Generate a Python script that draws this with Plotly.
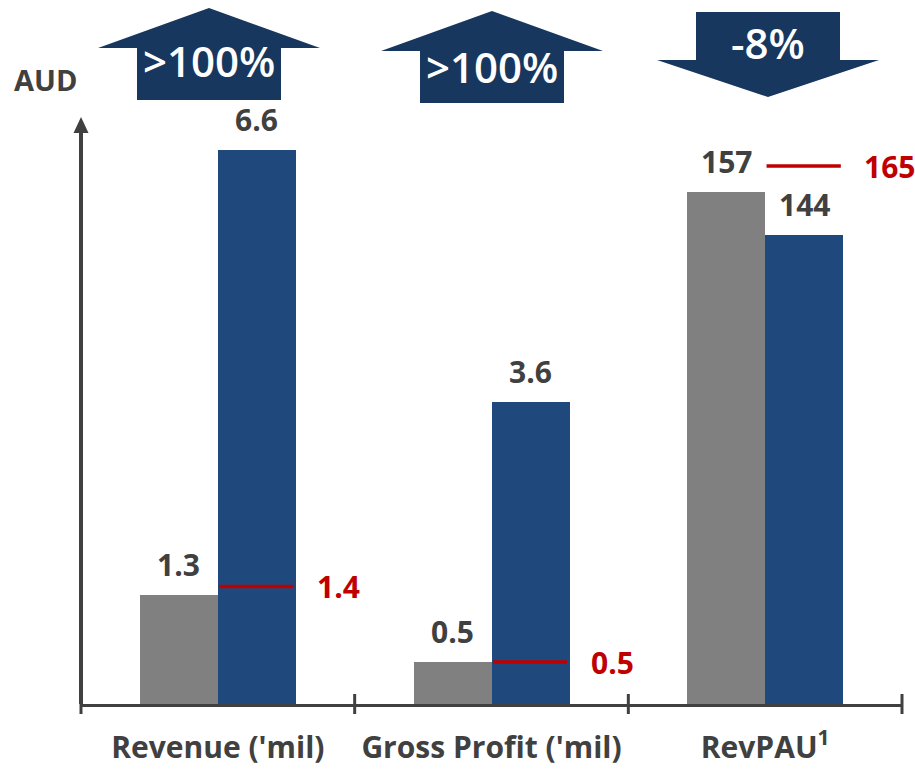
import plotly.graph_objects as go

# ---------------- data ----------------
categories = ["Revenue ('mil)", "Gross Profit ('mil)", "RevPAU<sup>1</sup>"]
prior_values = [1.3, 0.5, 157]
current_values = [6.6, 3.6, 144]
target_values = [1.4, 0.5, 165]
prior_labels = ["1.3", "0.5", "157"]
current_labels = ["6.6", "3.6", "144"]
target_labels = ["1.4", "0.5", "165"]
change_labels = [">100%", ">100%", "-8%"]
change_dirs = ["up", "up", "down"]
value_axis = ["y", "y", "y2"]

# ---------------- style ----------------
GREY = "#808080"
BLUE = "#1F497D"
NAVY = "#17375E"
RED = "#C00000"
TXT = "#404040"
FONT = "Open Sans"

W, H = 915, 769
ML, MR, MT, MB = 81, 13, 118, 65
PW = W - ML - MR
PH = H - MT - MB
BW = 0.285

fig = go.Figure()

idx = list(range(len(categories)))
for ax in ["y", "y2"]:
    sel = [i for i in idx if value_axis[i] == ax]
    fig.add_trace(go.Bar(
        x=sel, y=[prior_values[i] for i in sel], yaxis=ax,
        width=BW, offset=-BW, marker=dict(color=GREY, line_width=0),
        showlegend=False, hoverinfo="skip"))
    fig.add_trace(go.Bar(
        x=sel, y=[current_values[i] for i in sel], yaxis=ax,
        width=BW, offset=0, marker=dict(color=BLUE, line_width=0),
        showlegend=False, hoverinfo="skip"))

for i in idx:
    ax = value_axis[i]
    fig.add_trace(go.Scatter(
        x=[i + 0.005, i + BW * 0.97], y=[target_values[i]] * 2, yaxis=ax,
        mode="lines", line=dict(color=RED, width=3.5),
        showlegend=False, hoverinfo="skip"))

annotations = []
for i in idx:
    yref = value_axis[i]
    annotations.append(dict(
        x=i - BW / 2, y=prior_values[i], xref="x", yref=yref,
        text=prior_labels[i], showarrow=False, yanchor="bottom", yshift=8,
        font=dict(family=FONT, size=30, color=TXT, weight="bold")))
    annotations.append(dict(
        x=i + BW / 2, y=current_values[i], xref="x", yref=yref,
        text=current_labels[i], showarrow=False, yanchor="bottom", yshift=8,
        font=dict(family=FONT, size=30, color=TXT, weight="bold")))
    annotations.append(dict(
        x=i + BW, y=target_values[i], xref="x", yref=yref,
        text=target_labels[i], showarrow=False, xanchor="left", xshift=19,
        yanchor="middle",
        font=dict(family=FONT, size=30, color=RED, weight="bold")))

yr_top = 586 / 83.9


def px(x):
    return (x - ML) / PW


def py(y):
    return (H - MB - y) / PH


# AUD label
annotations.append(dict(
    x=px(12), y=py(79), xref="paper", yref="paper",
    text="AUD", showarrow=False, xanchor="left", yanchor="middle",
    font=dict(family=FONT, size=29, color=TXT, weight="bold")))

shapes = []
# y axis with arrow head (paper refs so nothing is clipped)
shapes.append(dict(type="line", xref="paper", yref="paper", x0=0, x1=0,
                   y0=0, y1=py(132), line=dict(color=TXT, width=4),
                   layer="above"))
shapes.append(dict(type="path", xref="paper", yref="paper", xsizemode="pixel",
                   xanchor=0,
                   path=f"M -7.5,{py(133):.5f} L 0,{py(117):.5f} L 7.5,{py(133):.5f} Z",
                   fillcolor=TXT, line=dict(width=0), layer="above"))

# change arrows (pixel geometry -> paper)
arrow_centers = [209, 492, 768]
arrow_text_y = [60, 67, 42]
for i in idx:
    cx = arrow_centers[i]
    if change_dirs[i] == "up":
        top = 8 if i == 0 else 11
        pts = [(cx - 111, top + 40), (cx, top), (cx + 111, top + 40),
               (cx + 72, top + 40), (cx + 72, top + 92), (cx - 72, top + 92),
               (cx - 72, top + 40)]
    else:
        top = 12
        pts = [(cx - 72, top), (cx + 72, top), (cx + 72, top + 48),
               (cx + 111, top + 48), (cx, top + 85), (cx - 111, top + 48),
               (cx - 72, top + 48)]
    path = "M " + " L ".join(f"{px(a):.5f},{py(b):.5f}" for a, b in pts) + " Z"
    shapes.append(dict(type="path", xref="paper", yref="paper", path=path,
                       fillcolor=NAVY, line=dict(width=0), layer="above"))
    annotations.append(dict(
        x=px(cx), y=py(arrow_text_y[i]), xref="paper", yref="paper",
        text=change_labels[i], showarrow=False, xanchor="center",
        yanchor="middle",
        font=dict(family=FONT, size=42, color="white", weight=600)))

# boundary ticks on x axis
for b in [-0.5, 0.5, 1.5, 2.5]:
    shapes.append(dict(type="line", xref="paper", yref="paper",
                       x0=(b + 0.5) / 3, x1=(b + 0.5) / 3,
                       ysizemode="pixel", yanchor=0, y0=-10, y1=10,
                       line=dict(color=TXT, width=3), layer="above"))

fig.update_layout(
    width=W, height=H,
    margin=dict(l=ML, r=MR, t=MT, b=MB, autoexpand=False),
    paper_bgcolor="white", plot_bgcolor="white",
    barmode="overlay", bargap=0,
    xaxis=dict(range=[-0.5, 2.5], tickvals=idx, ticktext=categories,
               showline=True, linecolor=TXT, linewidth=3, ticks="",
               showgrid=False, zeroline=False, ticklabelstandoff=15,
               automargin=False,
               tickfont=dict(family=FONT, size=30, color=TXT, weight="bold")),
    yaxis=dict(range=[0, yr_top], visible=False, showgrid=False),
    yaxis2=dict(range=[0, 586 / 3.26], overlaying="y", visible=False,
                showgrid=False),
    annotations=annotations, shapes=shapes,
)

fig.write_html(
    "out.html",
    config={"displayModeBar": False},
    post_script="document.body.style.margin='0';document.body.style.padding='0';",
)
